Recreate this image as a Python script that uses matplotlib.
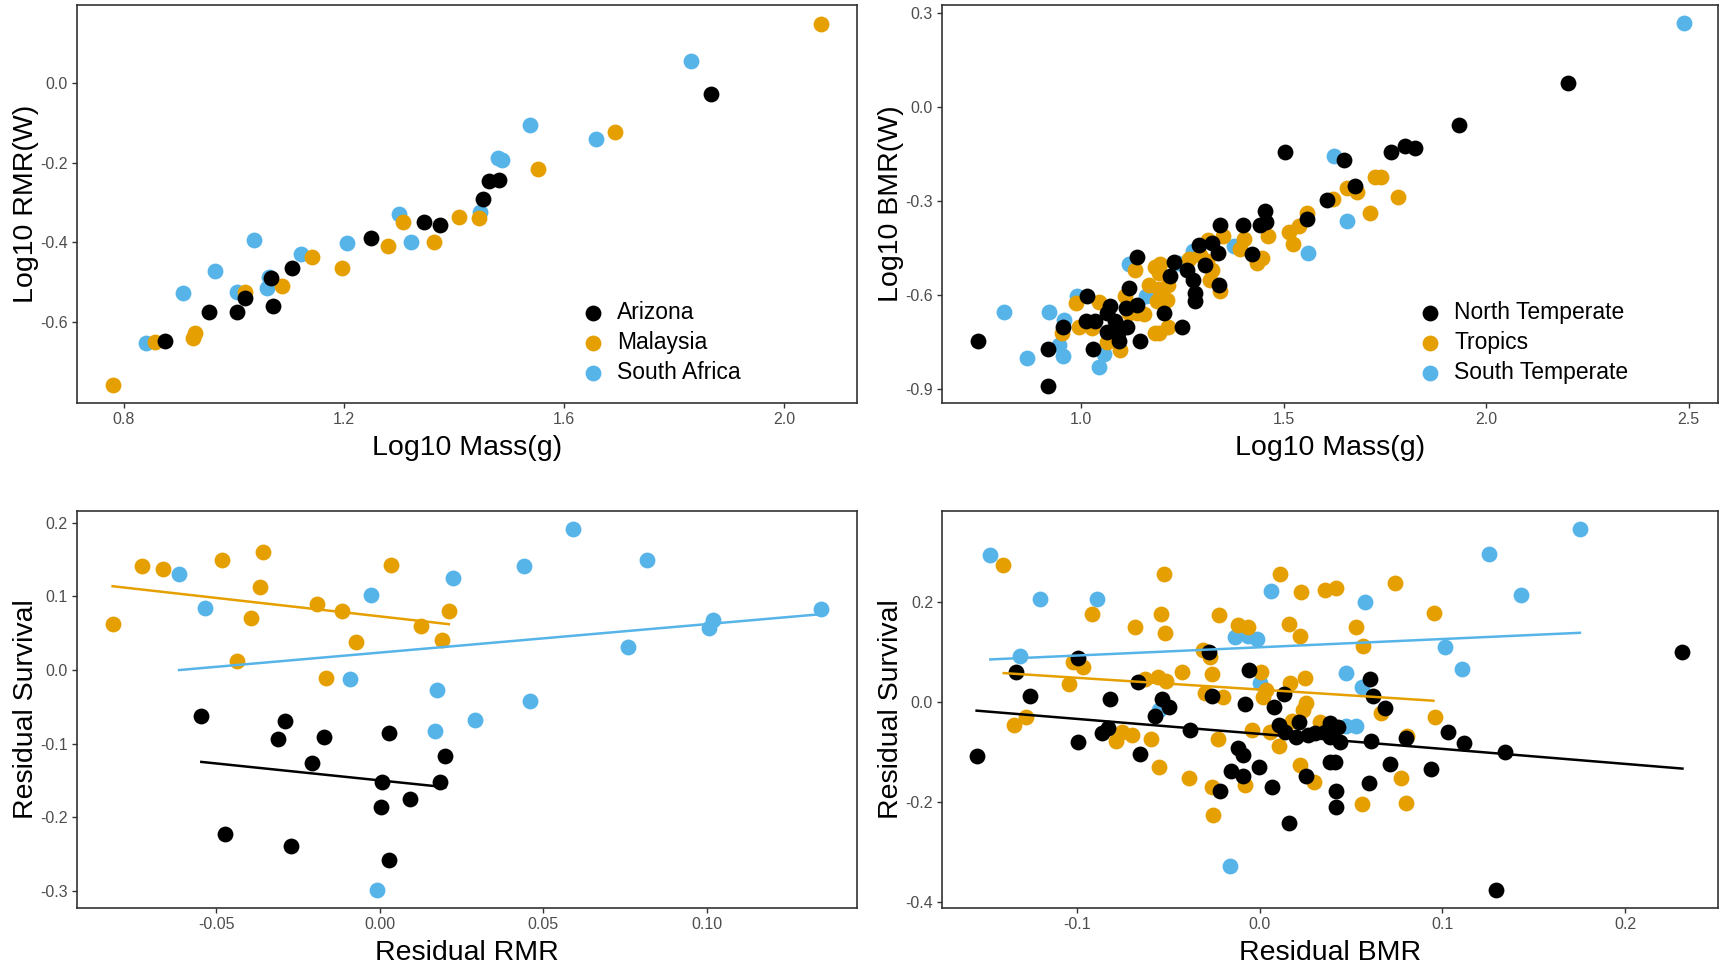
import matplotlib
matplotlib.use("Agg")
import matplotlib.pyplot as plt

plt.rcParams['font.family'] = ['Liberation Sans', 'DejaVu Sans']

# colours (Okabe-Ito)
BLACK = "#000000"
ORANGE = "#E69F00"
BLUE = "#56B4E9"

# ---------------- Panel A: RMR vs mass ----------------
rmr_labels = ["Arizona", "Malaysia", "South Africa"]

rmr_az_mass = [1.866, 1.481, 1.463, 1.452, 1.346, 1.375, 1.249, 1.105, 1.068, 1.020,
               1.071, 0.955, 1.005, 0.875]
rmr_az_rmr = [-0.028, -0.243, -0.246, -0.292, -0.350, -0.357, -0.390, -0.464, -0.490, -0.539,
              -0.558, -0.575, -0.575, -0.647]

rmr_my_mass = [2.067, 1.692, 1.553, 1.409, 1.445, 1.308, 1.363, 1.280, 1.196, 1.142,
               1.088, 1.020, 0.930, 0.925, 0.857, 0.780]
rmr_my_rmr = [0.148, -0.1225, -0.217, -0.3375, -0.340, -0.350, -0.399, -0.410, -0.464, -0.4375,
              -0.510, -0.525, -0.628, -0.640, -0.650, -0.7575]

rmr_sa_mass = [1.830, 1.538, 1.657, 1.480, 1.487, 1.448, 1.300, 1.322, 1.205, 1.037,
               1.122, 0.965, 1.064, 1.061, 0.908, 1.005, 0.840]
rmr_sa_rmr = [0.054, -0.107, -0.142, -0.188, -0.194, -0.323, -0.330, -0.400, -0.4025, -0.393,
              -0.428, -0.472, -0.487, -0.514, -0.527, -0.525, -0.653]

# ---------------- Panel B: BMR vs mass ----------------
bmr_labels = ["North Temperate", "Tropics", "South Temperate"]

bmr_nt_mass = [0.744, 0.918, 0.918, 1.015, 0.954, 1.028, 1.011, 1.034, 1.070, 1.063,
               1.082, 1.063, 1.092, 1.113, 1.144, 1.117, 1.137, 1.137, 1.205, 1.248,
               1.218, 1.228, 1.261, 1.277, 1.281, 1.281, 1.290, 1.306, 1.323, 1.337,
               1.339, 1.343, 1.399, 1.421, 1.441, 1.457, 1.453, 1.557, 1.504, 1.607,
               1.648, 1.677, 1.764, 1.799, 1.825, 1.934, 2.203, 1.110, 1.090]
bmr_nt_bmr = [-0.746, -0.889, -0.772, -0.601, -0.700, -0.771, -0.681, -0.681, -0.634, -0.658,
              -0.681, -0.719, -0.745, -0.700, -0.746, -0.578, -0.479, -0.631, -0.658, -0.702,
              -0.538, -0.493, -0.519, -0.551, -0.592, -0.620, -0.440, -0.503, -0.432, -0.466,
              -0.567, -0.376, -0.376, -0.468, -0.376, -0.365, -0.330, -0.358, -0.144, -0.296,
              -0.168, -0.250, -0.144, -0.1225, -0.131, -0.0565, 0.0766, -0.640, -0.720]

bmr_tr_mass = [1.133, 1.183, 1.166, 1.108, 1.043, 0.987, 0.995, 1.026, 0.952, 1.117,
               1.137, 1.154, 1.063, 1.096, 1.183, 1.656, 1.622, 1.557, 1.537, 1.514,
               1.524, 1.462, 1.401, 1.393, 1.351, 1.314, 1.294, 1.432, 1.446, 1.195,
               1.191, 1.215, 1.191, 1.211, 1.187, 1.310, 1.323, 1.317, 1.343, 1.215,
               1.193, 1.725, 1.741, 1.681, 1.782, 1.713, 1.267, 1.435]
bmr_tr_bmr = [-0.521, -0.511, -0.567, -0.601, -0.622, -0.626, -0.700, -0.706, -0.721, -0.658,
              -0.658, -0.660, -0.748, -0.775, -0.721, -0.259, -0.294, -0.336, -0.379, -0.397,
              -0.436, -0.410, -0.421, -0.453, -0.410, -0.424, -0.471, -0.482, -0.482, -0.500,
              -0.530, -0.567, -0.580, -0.615, -0.617, -0.490, -0.519, -0.551, -0.585, -0.700,
              -0.721, -0.2215, -0.2215, -0.270, -0.285, -0.338, -0.485, -0.498]

bmr_st_mass = [0.810, 0.921, 0.956, 0.944, 0.954, 0.867, 1.057, 1.044, 0.989, 1.160,
               1.117, 1.623, 1.656, 1.559, 1.376, 1.240, 1.277, 2.489]
bmr_st_bmr = [-0.654, -0.654, -0.679, -0.759, -0.794, -0.801, -0.787, -0.828, -0.601, -0.601,
              -0.499, -0.155, -0.362, -0.466, -0.443, -0.496, -0.460, 0.268]

# ---------------- Panel C: residual survival vs residual RMR ----------------
rs_az_x = [-0.0545, -0.029, -0.031, -0.0171, 0.0027, -0.0208, 0.020, 0.0008, 0.0183, 0.0092,
           0.0003, -0.0474, -0.027, 0.0027]
rs_az_y = [-0.0623, -0.0691, -0.094, -0.0903, -0.0849, -0.1256, -0.1165, -0.152, -0.152, -0.175,
           -0.186, -0.223, -0.239, -0.258]

rs_my_x = [-0.0816, -0.0726, -0.0662, -0.0481, -0.0357, -0.0365, -0.0394, -0.0437, -0.0191, -0.0116,
           -0.0072, -0.0163, 0.0035, 0.0127, 0.0191, 0.0211]
rs_my_y = [0.0619, 0.141, 0.137, 0.1495, 0.160, 0.113, 0.0705, 0.0126, 0.090, 0.0795,
           0.0384, -0.0104, 0.1427, 0.0592, 0.0407, 0.0795]

rs_sa_x = [-0.0613, -0.0533, -0.0027, 0.0225, 0.0441, 0.059, 0.0816, 0.1349, 0.1017, 0.1006,
           0.0759, -0.009, 0.0176, 0.0459, 0.0292, 0.0168, -0.0008]
rs_sa_y = [0.130, 0.0845, 0.102, 0.1247, 0.141, 0.192, 0.150, 0.0831, 0.0677, 0.0565,
           0.0316, -0.0126, -0.0271, -0.0425, -0.0673, -0.0831, -0.299]

# fitted lines (end points)
rs_az_fit_x = [-0.0545, 0.020]
rs_az_fit_y = [-0.1247, -0.159]
rs_my_fit_x = [-0.0816, 0.0211]
rs_my_fit_y = [0.1138, 0.0623]
rs_sa_fit_x = [-0.0613, 0.1349]
rs_sa_fit_y = [0.0, 0.0759]

# ---------------- Panel D: residual survival vs residual BMR ----------------
bs_nt_x = [-0.1546, -0.133, -0.1258, -0.0993, -0.0995, -0.086, -0.0829, -0.0816, -0.0665, -0.0652,
           -0.0574, -0.0532, -0.0496, -0.0382, -0.0276, -0.026, -0.0214, -0.0154, -0.0118, -0.0091,
           -0.0091, -0.0082, -0.006, -0.0003, 0.007, 0.0077, 0.0106, 0.0133, 0.0137, 0.0161,
           0.0201, 0.0216, 0.0252, 0.0265, 0.0301, 0.0356, 0.0383, 0.0386, 0.0383, 0.0414,
           0.0416, 0.0416, 0.0429, 0.0438, 0.0597, 0.0606, 0.062, 0.0611, 0.0684, 0.0712,
           0.0803, 0.094, 0.1032, 0.1119, 0.1344, 0.1293, 0.2313]
bs_nt_y = [-0.1072, 0.0599, 0.0126, 0.0878, -0.0786, -0.0619, -0.0519, 0.006, 0.0399, -0.1038,
           -0.0273, 0.006, -0.0088, -0.0553, 0.0998, 0.0126, -0.1764, -0.1365, -0.0906, -0.1052,
           -0.1471, -0.0034, 0.0645, -0.1285, -0.1697, -0.0088, -0.0453, 0.0166, -0.0586, -0.2403,
           -0.0686, -0.0387, -0.1471, -0.0653, -0.0619, -0.0586, -0.042, -0.0686, -0.1186, -0.120,
           -0.1764, -0.2096, -0.0487, -0.0786, -0.1604, 0.0465, 0.0126, -0.0766, -0.012, -0.1232,
           -0.0719, -0.1338, -0.060, -0.0818, -0.0998, -0.376, 0.0998]

bs_tr_x = [-0.1404, -0.1345, -0.1276, -0.1044, -0.102, -0.0966, -0.0917, -0.0783, -0.0751, -0.0696,
           -0.0682, -0.0629, -0.0596, -0.0556, -0.0552, -0.0539, -0.0525, -0.0517, -0.051, -0.0425,
           -0.0388, -0.031, -0.0273, -0.0258, -0.030, -0.0258, -0.0255, -0.0228, -0.0224, -0.020,
           -0.0118, -0.0082, -0.0063, -0.0039, 0.001, 0.0019, 0.0037, 0.0055, 0.0104, 0.011,
           0.0161, 0.0168, 0.0179, 0.0219, 0.0223, 0.0225, 0.0237, 0.0247, 0.0252, 0.0296,
           0.0332, 0.036, 0.0416, 0.0526, 0.056, 0.0566, 0.0662, 0.0739, 0.0776, 0.0806,
           0.0803, 0.0954, 0.0958]
bs_tr_y = [0.2754, -0.0453, -0.0287, 0.0365, 0.081, 0.071, 0.1762, -0.0766, -0.0586, -0.0653,
           0.151, 0.0459, -0.0739, 0.0511, -0.1285, 0.1762, 0.2575, 0.1377, 0.0425, 0.0611,
           -0.1517, 0.104, 0.091, 0.0565, 0.018, -0.1697, -0.2249, -0.0739, 0.1742, 0.0112,
           0.1556, -0.165, 0.1497, -0.0553, 0.0611, 0.0112, 0.0246, -0.0586, -0.0872, 0.2575,
           0.1576, 0.0391, -0.0367, 0.1323, -0.1252, 0.2208, -0.0154, 0.0485, -0.002, -0.1585,
           -0.0399, 0.2242, 0.2281, 0.151, -0.2036, 0.1124, -0.022, 0.2387, -0.1517, -0.0673,
           -0.2016, 0.1788, -0.0287]

bs_st_x = [-0.1473, -0.1309, -0.1203, -0.0889, -0.055, -0.016, -0.0136, -0.0063, -0.0014, 0.0,
           0.0061, 0.0475, 0.0475, 0.053, 0.056, 0.0575, 0.1013, 0.1107, 0.1257, 0.1428, 0.1752]
bs_st_y = [0.294, 0.0924, 0.2056, 0.2056, -0.0154, -0.3261, 0.1297, 0.1323, 0.127, 0.0391,
           0.2228, 0.0591, -0.0473, -0.0473, 0.0311, 0.2002, 0.111, 0.0665, 0.296, 0.2155, 0.3473]

bs_nt_fit_x = [-0.1548, 0.2313]
bs_nt_fit_y = [-0.0166, -0.1324]
bs_tr_fit_x = [-0.140, 0.0951]
bs_tr_fit_y = [0.0585, 0.0033]
bs_st_fit_x = [-0.1473, 0.1752]
bs_st_fit_y = [0.0858, 0.139]


def style_axis(ax, xlabel, ylabel, xticks, xticklabels, yticks, yticklabels, xlim, ylim):
    ax.set_xlim(*xlim)
    ax.set_ylim(*ylim)
    ax.set_xticks(xticks)
    ax.set_xticklabels(xticklabels)
    ax.set_yticks(yticks)
    ax.set_yticklabels(yticklabels)
    ax.set_xlabel(xlabel, fontsize=20.5, labelpad=6)
    ax.set_ylabel(ylabel, fontsize=20.5, labelpad=1)
    for s in ax.spines.values():
        s.set_color("#333333")
        s.set_linewidth(1.2)
    ax.tick_params(axis="both", colors="#333333", labelcolor="#4D4D4D",
                   labelsize=11.5, length=3.5, width=1.0, pad=3)


def scatter(ax, x, y, color, label=None):
    ax.scatter(x, y, s=130, color=color, linewidths=0, label=label, zorder=2)


fig = plt.figure(figsize=(17.21, 9.71), dpi=100)

ax1 = fig.add_axes([0.0447, 0.585, 0.4533, 0.410])
ax2 = fig.add_axes([0.5474, 0.585, 0.4509, 0.410])
ax3 = fig.add_axes([0.0447, 0.0649, 0.4533, 0.4089])
ax4 = fig.add_axes([0.5474, 0.0649, 0.4509, 0.4089])

# --- A ---
scatter(ax1, rmr_sa_mass, rmr_sa_rmr, BLUE, rmr_labels[2])
scatter(ax1, rmr_my_mass, rmr_my_rmr, ORANGE, rmr_labels[1])
scatter(ax1, rmr_az_mass, rmr_az_rmr, BLACK, rmr_labels[0])
style_axis(ax1, "Log10 Mass(g)", "Log10 RMR(W)",
           [0.8, 1.2, 1.6, 2.0], ["0.8", "1.2", "1.6", "2.0"],
           [-0.6, -0.4, -0.2, 0.0], ["-0.6", "-0.4", "-0.2", "0.0"],
           (0.715, 2.132), (-0.802, 0.195))
h, l = ax1.get_legend_handles_labels()
ax1.legend(h[::-1], l[::-1], loc="center left", bbox_to_anchor=(0.647, 0.151),
           frameon=False, fontsize=16.5, borderpad=0, borderaxespad=0,
           handlelength=1.0, handletextpad=0.55, labelspacing=0.31, markerscale=1.0)

# --- B ---
scatter(ax2, bmr_st_mass, bmr_st_bmr, BLUE, bmr_labels[2])
scatter(ax2, bmr_tr_mass, bmr_tr_bmr, ORANGE, bmr_labels[1])
scatter(ax2, bmr_nt_mass, bmr_nt_bmr, BLACK, bmr_labels[0])
style_axis(ax2, "Log10 Mass(g)", "Log10 BMR(W)",
           [1.0, 1.5, 2.0, 2.5], ["1.0", "1.5", "2.0", "2.5"],
           [-0.9, -0.6, -0.3, 0.0, 0.3], ["-0.9", "-0.6", "-0.3", "0.0", "0.3"],
           (0.656, 2.573), (-0.944, 0.327))
h, l = ax2.get_legend_handles_labels()
ax2.legend(h[::-1], l[::-1], loc="center left", bbox_to_anchor=(0.614, 0.151),
           frameon=False, fontsize=16.5, borderpad=0, borderaxespad=0,
           handlelength=1.0, handletextpad=0.55, labelspacing=0.31, markerscale=1.0)

# --- C ---
scatter(ax3, rs_sa_x, rs_sa_y, BLUE)
scatter(ax3, rs_my_x, rs_my_y, ORANGE)
scatter(ax3, rs_az_x, rs_az_y, BLACK)
ax3.plot(rs_my_fit_x, rs_my_fit_y, color=ORANGE, lw=1.8, zorder=3)
ax3.plot(rs_sa_fit_x, rs_sa_fit_y, color=BLUE, lw=1.8, zorder=3)
ax3.plot(rs_az_fit_x, rs_az_fit_y, color=BLACK, lw=1.8, zorder=3)
style_axis(ax3, "Residual RMR", "Residual Survival",
           [-0.05, 0.0, 0.05, 0.10], ["-0.05", "0.00", "0.05", "0.10"],
           [-0.3, -0.2, -0.1, 0.0, 0.1, 0.2], ["-0.3", "-0.2", "-0.1", "0.0", "0.1", "0.2"],
           (-0.0925, 0.1458), (-0.323, 0.216))

# --- D ---
scatter(ax4, bs_st_x, bs_st_y, BLUE)
scatter(ax4, bs_tr_x, bs_tr_y, ORANGE)
scatter(ax4, bs_nt_x, bs_nt_y, BLACK)
ax4.plot(bs_st_fit_x, bs_st_fit_y, color=BLUE, lw=1.8, zorder=3)
ax4.plot(bs_tr_fit_x, bs_tr_fit_y, color=ORANGE, lw=1.8, zorder=3)
ax4.plot(bs_nt_fit_x, bs_nt_fit_y, color=BLACK, lw=1.8, zorder=3)
style_axis(ax4, "Residual BMR", "Residual Survival",
           [-0.1, 0.0, 0.1, 0.2], ["-0.1", "0.0", "0.1", "0.2"],
           [-0.4, -0.2, 0.0, 0.2], ["-0.4", "-0.2", "0.0", "0.2"],
           (-0.1737, 0.2508), (-0.411, 0.3826))

fig.savefig("out.png", dpi=100)
